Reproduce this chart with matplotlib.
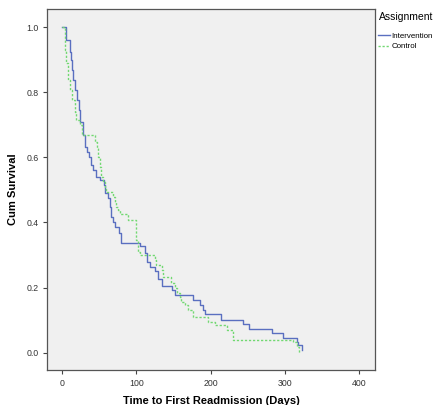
import matplotlib
matplotlib.use("Agg")
import matplotlib.pyplot as plt

# Kaplan-Meier steps (days, cumulative survival)
interv_t = [0, 5.4, 9.9, 11.2, 12.6, 14.3, 17.6, 20.3, 22, 23.4,
            27.8, 30.1, 32.8, 35.5, 39.2, 41.4, 45.9, 50.4, 55.8, 58.1,
            61.6, 63.9, 66.2, 68.4, 71.6, 76, 79.5, 105.4, 111.2, 113.9,
            118, 124.7, 129.7, 133.8, 147.7, 151.8, 176.6, 185.5, 189.6, 192.3,
            213.5, 244, 252, 282.4, 297.3, 316.2, 318.4, 323]
interv_s = [1.0, 0.96, 0.925, 0.90, 0.869, 0.838, 0.807, 0.777, 0.745, 0.71,
            0.669, 0.633, 0.617, 0.60, 0.576, 0.561, 0.54, 0.53, 0.515, 0.489,
            0.474, 0.448, 0.417, 0.402, 0.386, 0.366, 0.338, 0.327, 0.305, 0.279,
            0.263, 0.25, 0.225, 0.205, 0.192, 0.176, 0.161, 0.146, 0.13, 0.118,
            0.1015, 0.089, 0.074, 0.06, 0.045, 0.033, 0.022, 0.008]

control_t = [0, 3.1, 5.4, 7.6, 9.9, 13, 16.6, 18.9, 23.4, 26.5,
             43.6, 46.8, 48.1, 50.4, 52.7, 54.9, 57.2, 59.5, 68.4, 70.7,
             73, 75.1, 77.4, 88.6, 99, 100, 102.2, 104.5, 124.7, 127,
             133.8, 136, 147.3, 151.8, 154.1, 158.6, 160.8, 165.3, 169.7, 176.5,
             196.8, 205.8, 221.6, 230.5, 311.6, 316.2, 319.3]
control_s = [1.0, 0.93, 0.889, 0.838, 0.807, 0.776, 0.74, 0.715, 0.70, 0.669,
             0.648, 0.628, 0.602, 0.571, 0.54, 0.525, 0.505, 0.494, 0.479, 0.463,
             0.448, 0.438, 0.425, 0.407, 0.371, 0.345, 0.31, 0.30, 0.284, 0.269,
             0.253, 0.233, 0.215, 0.197, 0.182, 0.171, 0.156, 0.146, 0.13, 0.11,
             0.094, 0.084, 0.069, 0.04, 0.033, 0.017, 0.0]

x_ticks = [0, 100, 200, 300, 400]
y_ticks = [0.0, 0.2, 0.4, 0.6, 0.8, 1.0]

plt.rcParams['font.family'] = ['Liberation Sans', 'DejaVu Sans']

fig = plt.figure(figsize=(4.38, 4.05), dpi=100)
ax = fig.add_axes([0.107, 0.086, 0.749, 0.892])
ax.set_facecolor('#f0f0f0')

ax.plot(interv_t, interv_s, drawstyle='steps-post', color='#5a6fc0',
        lw=1.0, label='Intervention')
ax.plot(control_t, control_s, drawstyle='steps-post', color='#72d872',
        lw=1.0, ls=(0, (1.6, 1.3)), label='Control')

ax.set_xlim(-21, 422)
ax.set_ylim(-0.054, 1.056)
ax.set_xticks(x_ticks)
ax.set_yticks(y_ticks)
ax.set_xticklabels([str(v) for v in x_ticks])
ax.set_yticklabels(['%.1f' % v for v in y_ticks])
ax.tick_params(direction='out', length=3, width=0.8, colors='#444444',
               labelsize=6.3, labelcolor='#333333', pad=3)
for s in ax.spines.values():
    s.set_color('#555555')
    s.set_linewidth(0.9)

ax.set_xlabel('Time to First Readmission (Days)', fontsize=8, fontweight='bold',
              labelpad=6)
ax.set_ylabel('Cum Survival', fontsize=8, fontweight='bold', labelpad=6)

leg = ax.legend(loc='upper left', bbox_to_anchor=(1.0, 1.0), frameon=False,
                title='Assignment', fontsize=5.7, title_fontsize=7.5,
                handlelength=1.5, handletextpad=0.15, borderaxespad=0.15,
                borderpad=0.3, labelspacing=0.4)
leg._legend_box.align = 'left'
leg._legend_box.sep = 7

fig.savefig('out.png', dpi=100)
